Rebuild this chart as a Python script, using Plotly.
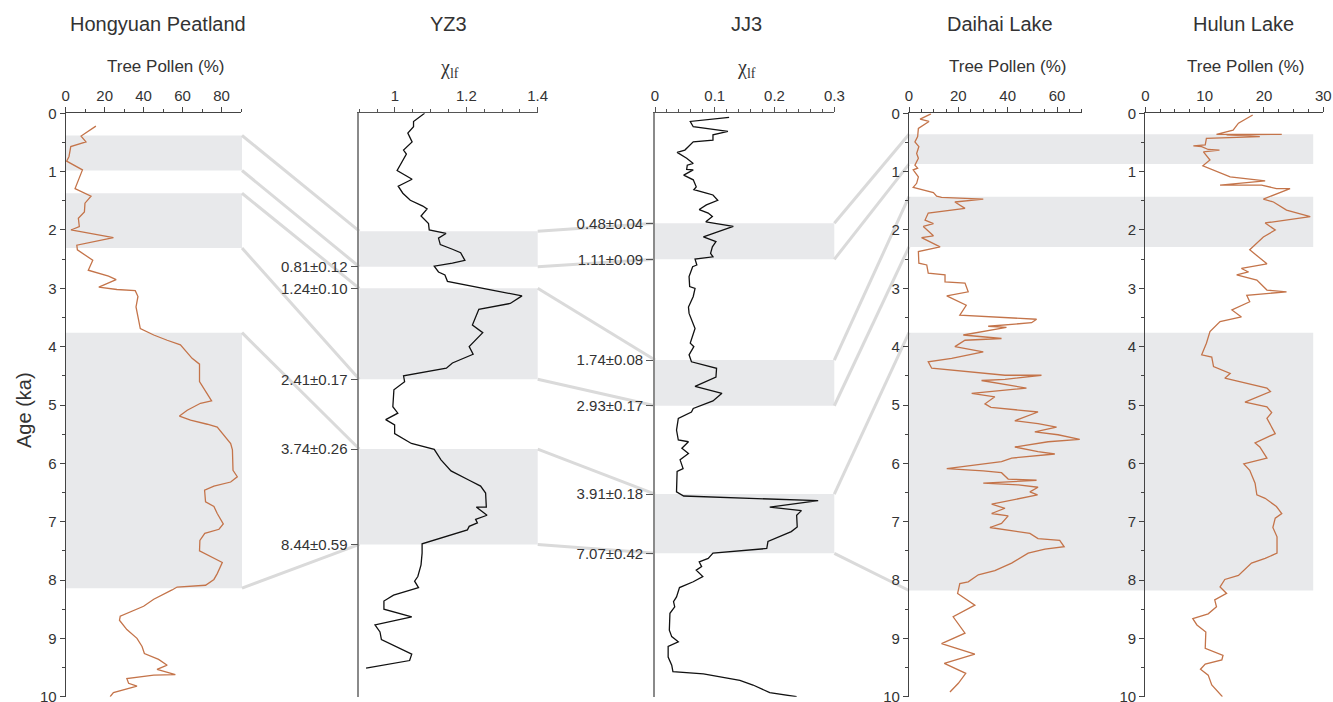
import plotly.graph_objects as go

W, H = 1333, 702

# ---------------- data ----------------
# Hongyuan Peatland tree pollen (%), age in ka
hy_age = [0.22, 0.39, 0.49, 0.57, 0.74, 0.82, 0.97, 1.29, 1.42, 1.54, 1.69, 1.80, 1.94, 2.00, 2.13,
          2.26, 2.34, 2.52, 2.69, 2.79, 2.85, 2.98, 3.02, 3.04, 3.14, 3.32, 3.69, 3.80, 3.89, 3.97,
          4.20, 4.30, 4.60, 4.80, 4.93, 4.97, 5.09, 5.19, 5.26, 5.33, 5.38, 5.66, 5.77, 6.12, 6.23,
          6.32, 6.39, 6.46, 6.66, 6.74, 6.86, 7.04, 7.13, 7.20, 7.32, 7.50, 7.60, 7.70, 7.89, 7.99,
          8.09, 8.12, 8.17, 8.33, 8.45, 8.62, 8.69, 8.85, 9.00, 9.14, 9.26, 9.36, 9.46, 9.53, 9.62,
          9.63, 9.69, 9.77, 9.82, 9.93, 10.0]
hy_tree = [15.5, 7.9, 10.4, 2.6, 1.7, 0.5, 8.6, 4.8, 13.0, 9.9, 9.6, 6.5, 7.0, 2.7, 24.5,
           5.7, 6.0, 13.9, 11.6, 22.0, 25.9, 17.0, 26.3, 35.7, 37.1, 36.1, 38.3, 45.2, 52.1, 58.9,
           64.9, 68.7, 68.7, 72.7, 74.9, 69.2, 62.4, 58.4, 64.1, 72.7, 77.8, 84.7, 85.6, 85.9, 88.1,
           84.7, 76.1, 71.3, 71.8, 76.1, 77.8, 80.9, 78.7, 71.4, 68.9, 68.7, 74.4, 80.4, 77.8, 76.1,
           71.8, 57.2, 54.6, 45.2, 40.0, 28.0, 27.6, 31.4, 36.6, 39.2, 40.4, 47.7, 52.1, 46.9, 56.3,
           45.2, 31.4, 32.3, 36.6, 24.5, 22.8]

# YZ3 magnetic susceptibility (chi_lf), relative core position
yz3_pos = [0.0, 0.14, 0.23, 0.34, 0.49, 0.63, 0.70, 0.80, 0.98, 1.13, 1.25, 1.37, 1.49, 1.59, 1.64,
           1.76, 1.89, 2.00, 2.06, 2.14, 2.25, 2.33, 2.39, 2.52, 2.57, 2.62, 2.72, 2.77, 2.88, 3.03,
           3.13, 3.26, 3.36, 3.63, 3.76, 4.00, 4.13, 4.28, 4.37, 4.50, 4.60, 4.74, 5.03, 5.14, 5.25,
           5.34, 5.49, 5.66, 5.76, 5.94, 6.13, 6.29, 6.39, 6.51, 6.75, 6.75, 6.89, 6.96, 7.02, 7.08,
           7.14, 7.38, 7.54, 7.74, 7.94, 8.02, 8.13, 8.26, 8.36, 8.50, 8.63, 8.77, 8.89, 9.02, 9.27,
           9.38, 9.51]
yz3_chi = [1.083, 1.052, 1.052, 1.036, 1.048, 1.024, 1.032, 1.022, 1.006, 1.048, 1.009, 1.022, 1.043, 1.078, 1.090,
           1.073, 1.094, 1.096, 1.143, 1.122, 1.127, 1.161, 1.184, 1.196, 1.161, 1.110, 1.122, 1.140, 1.147, 1.272,
           1.356, 1.323, 1.235, 1.217, 1.246, 1.208, 1.219, 1.161, 1.144, 1.024, 1.027, 0.997, 0.994, 1.008, 0.974,
           0.999, 0.999, 1.046, 1.110, 1.129, 1.157, 1.208, 1.240, 1.254, 1.256, 1.228, 1.258, 1.226, 1.231, 1.208,
           1.203, 1.076, 1.076, 1.073, 1.064, 1.055, 1.066, 0.996, 0.969, 0.969, 1.047, 0.944, 0.958, 0.962, 1.047,
           1.041, 0.919]

# JJ3 magnetic susceptibility (chi_lf), relative core position
jj3_pos = [0.07, 0.14, 0.23, 0.31, 0.37, 0.46, 0.49, 0.54, 0.63, 0.67, 0.77, 0.86, 0.89, 0.96, 0.97,
           1.06, 1.14, 1.26, 1.31, 1.37, 1.40, 1.49, 1.57, 1.65, 1.71, 1.77, 1.86, 1.94, 2.12, 2.20,
           2.29, 2.40, 2.46, 2.50, 2.60, 2.63, 2.80, 2.97, 3.00, 3.14, 3.32, 3.43, 3.69, 3.94, 4.00,
           4.14, 4.26, 4.37, 4.52, 4.68, 4.80, 4.93, 5.06, 5.12, 5.23, 5.43, 5.60, 5.63, 5.74, 5.83,
           5.94, 6.09, 6.14, 6.49, 6.56, 6.64, 6.75, 6.81, 6.89, 7.09, 7.17, 7.34, 7.46, 7.54, 7.63,
           7.69, 7.77, 7.83, 7.94, 8.03, 8.13, 8.29, 8.37, 8.46, 8.57, 8.86, 8.97, 9.06, 9.14, 9.32,
           9.46, 9.57, 9.61, 9.72, 9.80, 9.93, 10.0]
jj3_chi = [0.124, 0.059, 0.064, 0.122, 0.097, 0.097, 0.064, 0.059, 0.050, 0.037, 0.053, 0.064, 0.054, 0.053, 0.064,
           0.048, 0.064, 0.069, 0.065, 0.086, 0.097, 0.105, 0.086, 0.074, 0.089, 0.096, 0.085, 0.131, 0.081, 0.102,
           0.096, 0.093, 0.097, 0.067, 0.070, 0.063, 0.057, 0.058, 0.067, 0.064, 0.056, 0.057, 0.067, 0.059, 0.065,
           0.057, 0.061, 0.103, 0.102, 0.067, 0.112, 0.097, 0.064, 0.061, 0.039, 0.036, 0.039, 0.056, 0.045, 0.056,
           0.042, 0.047, 0.037, 0.036, 0.048, 0.273, 0.192, 0.245, 0.237, 0.238, 0.228, 0.189, 0.187, 0.097, 0.089,
           0.074, 0.078, 0.069, 0.080, 0.064, 0.041, 0.036, 0.031, 0.033, 0.025, 0.024, 0.028, 0.039, 0.022, 0.022,
           0.028, 0.030, 0.081, 0.142, 0.164, 0.192, 0.237]

# Daihai Lake tree pollen (%), age in ka
dh_age = [0.01, 0.10, 0.14, 0.26, 0.40, 0.49, 0.57, 0.69, 0.77, 0.89, 0.94, 0.97, 1.09, 1.20, 1.27,
          1.32, 1.36, 1.42, 1.44, 1.47, 1.52, 1.63, 1.71, 1.83, 1.89, 1.94, 2.10, 2.13, 2.29, 2.37,
          2.57, 2.60, 2.74, 2.77, 2.89, 2.91, 3.06, 3.13, 3.29, 3.46, 3.53, 3.53, 3.59, 3.65, 3.67,
          3.74, 3.80, 3.86, 3.89, 4.00, 4.09, 4.20, 4.26, 4.37, 4.49, 4.49, 4.56, 4.58, 4.71, 4.80,
          4.86, 4.98, 5.04, 5.12, 5.27, 5.32, 5.38, 5.46, 5.51, 5.59, 5.63, 5.72, 5.80, 5.84, 5.91,
          5.97, 6.09, 6.13, 6.16, 6.27, 6.29, 6.34, 6.37, 6.41, 6.49, 6.54, 6.60, 6.70, 6.77, 6.86,
          6.90, 7.03, 7.10, 7.20, 7.29, 7.32, 7.43, 7.47, 7.54, 7.71, 7.84, 7.91, 8.03, 8.06, 8.23,
          8.43, 8.63, 8.91, 9.09, 9.27, 9.43, 9.60, 9.77, 9.92]
dh_tree = [8.9, 4.5, 8.1, 3.8, 3.5, 2.4, 4.0, 3.1, 3.8, 2.4, 3.5, 1.7, 3.8, 3.1, 1.7,
           6.5, 9.9, 11.2, 13.2, 30.1, 18.6, 22.7, 7.8, 6.5, 9.9, 5.8, 9.9, 5.1, 12.6, 3.8,
           4.0, 7.2, 7.8, 14.6, 14.6, 22.7, 24.0, 15.3, 23.2, 20.6, 47.0, 51.7, 49.7, 32.1, 39.5,
           29.4, 22.0, 37.5, 22.7, 18.6, 30.1, 17.3, 7.8, 9.2, 38.9, 53.7, 38.9, 29.4, 47.6, 25.4,
           34.8, 30.8, 33.2, 52.3, 42.9, 52.3, 59.8, 51.0, 60.4, 69.2, 56.4, 42.9, 52.3, 59.1, 41.6,
           37.5, 15.3, 30.1, 37.5, 40.2, 51.7, 30.1, 44.3, 52.3, 49.0, 52.1, 45.6, 33.5, 38.9, 33.5,
           40.2, 37.5, 32.8, 49.0, 52.3, 61.1, 62.9, 55.1, 48.3, 41.6, 34.8, 28.1, 24.0, 20.6, 19.7,
           26.7, 17.9, 22.7, 13.2, 26.7, 14.3, 23.0, 20.0, 16.6]

# Hulun Lake tree pollen (%), age in ka
hl_age = [0.03, 0.17, 0.29, 0.36, 0.36, 0.37, 0.40, 0.43, 0.54, 0.56, 0.57, 0.62, 0.63, 0.66, 0.80,
          0.90, 1.09, 1.16, 1.23, 1.23, 1.29, 1.29, 1.47, 1.52, 1.66, 1.77, 1.88, 2.00, 2.12, 2.34,
          2.58, 2.66, 2.72, 2.77, 2.86, 3.03, 3.06, 3.12, 3.23, 3.37, 3.49, 3.57, 3.74, 3.94, 4.14,
          4.18, 4.34, 4.46, 4.54, 4.71, 4.77, 4.95, 5.03, 5.13, 5.23, 5.49, 5.65, 5.72, 5.91, 6.01,
          6.12, 6.34, 6.54, 6.60, 6.74, 6.86, 6.94, 7.10, 7.26, 7.54, 7.63, 7.71, 7.92, 7.99, 8.12,
          8.23, 8.34, 8.46, 8.58, 8.66, 8.77, 8.89, 9.17, 9.29, 9.37, 9.44, 9.53, 9.63, 9.80, 10.0]
hl_tree = [18.1, 15.7, 14.8, 12.0, 23.0, 13.7, 19.3, 10.3, 10.1, 8.1, 9.5, 10.6, 12.5, 9.8, 10.9,
           9.7, 14.3, 20.2, 12.6, 19.6, 22.1, 24.4, 19.9, 21.6, 23.8, 27.8, 20.2, 21.9, 19.9, 17.6,
           20.5, 16.2, 17.4, 15.4, 18.8, 20.5, 23.8, 17.1, 17.6, 14.6, 16.2, 12.6, 10.9, 10.3, 9.5,
           11.2, 11.5, 14.3, 13.4, 20.5, 21.1, 16.8, 20.5, 21.3, 20.5, 21.9, 18.5, 19.3, 20.5, 16.6,
           17.6, 18.5, 18.8, 20.2, 22.1, 23.0, 21.9, 21.5, 22.2, 22.2, 20.2, 17.9, 15.7, 13.4, 12.6,
           13.7, 11.7, 12.0, 10.6, 8.0, 8.7, 10.2, 10.1, 13.1, 12.9, 10.1, 9.3, 10.6, 11.2, 13.0]

# shaded intervals (top, bottom)
hy_bands = [(0.38, 0.98), (1.37, 2.31), (3.76, 8.14)]
yz3_bands = [(2.02, 2.63), (3.00, 4.56), (5.755, 7.39)]
jj3_bands = [(1.886, 2.503), (4.23, 5.013), (6.527, 7.543)]
dh_bands = [(0.36, 0.87), (1.43, 2.29), (3.76, 8.18)]

# dated horizons on the two cores
yz3_tie_pos = [2.63, 3.00, 4.56, 5.755, 7.39]
yz3_tie_txt = ["0.81±0.12", "1.24±0.10", "2.41±0.17", "3.74±0.26", "8.44±0.59"]
jj3_tie_pos = [1.886, 2.503, 4.23, 5.013, 6.527, 7.543]
jj3_tie_txt = ["0.48±0.04", "1.11±0.09", "1.74±0.08", "2.93±0.17", "3.91±0.18", "7.07±0.42"]

# ---------------- layout helpers ----------------
def px(x):
    return x / W

def py(y):
    return 1 - y / H

Y_DOM = [py(696.7), py(113.3)]
DOM = {
    "hy": [px(65.7), px(241.0)],
    "yz": [px(359.3), px(537.7)],
    "jj": [px(655.0), px(834.3)],
    "dh": [px(909.0), px(1081.7)],
    "hl": [px(1145.3), px(1323.3)],
}
HL_BAND_RIGHT = 28.3  # right edge of Daihai/Hulun shading in Hulun % units

FONT = "Liberation Sans, Arial, sans-serif"
TXT = "#333333"
ORANGE = "#c4744a"
BAND = "#e8e9eb"
LINK = "#dadada"

fig = go.Figure()

traces = [
    (hy_tree, hy_age, "x", "y", ORANGE),
    (yz3_chi, yz3_pos, "x2", "y2", "#111111"),
    (jj3_chi, jj3_pos, "x3", "y3", "#111111"),
    (dh_tree, dh_age, "x4", "y4", ORANGE),
    (hl_tree, hl_age, "x5", "y5", ORANGE),
]
for xs, ys, xa, ya, col in traces:
    fig.add_trace(go.Scatter(x=xs, y=ys, xaxis=xa, yaxis=ya, mode="lines",
                             line=dict(color=col, width=1.3), showlegend=False,
                             hoverinfo="skip"))

shapes = []

def band(x0, x1, yref, b):
    shapes.append(dict(type="rect", xref="paper", yref=yref, x0=x0, x1=x1,
                       y0=b[0], y1=b[1], fillcolor=BAND, line=dict(width=0),
                       layer="below"))

for b in hy_bands:
    band(DOM["hy"][0], px(242), "y", b)
for b in yz3_bands:
    band(DOM["yz"][0], DOM["yz"][1], "y2", b)
for b in jj3_bands:
    band(DOM["jj"][0], DOM["jj"][1], "y3", b)
hl_w = DOM["hl"][1] - DOM["hl"][0]
for b in dh_bands:
    band(DOM["dh"][0], DOM["hl"][0] + hl_w * HL_BAND_RIGHT / 30, "y4", b)

def links(xa, xb, left, right):
    for la, rb in zip(left, right):
        for ya, yb in zip(la, rb):
            shapes.append(dict(type="line", xref="paper", yref="y", x0=xa, x1=xb,
                               y0=ya, y1=yb, line=dict(color=LINK, width=3),
                               layer="below"))

links(px(242), DOM["yz"][0], hy_bands, yz3_bands)
links(DOM["yz"][1], DOM["jj"][0], yz3_bands, jj3_bands)
links(DOM["jj"][1], DOM["dh"][0], jj3_bands, dh_bands)

tickfont = dict(family=FONT, size=15, color=TXT)

def xaxis(dom, rng, tickvals, minor_dtick, linecolor="#444444"):
    return dict(domain=dom, range=rng, side="top", showgrid=False, zeroline=False,
                showline=True, linecolor=linecolor, linewidth=1.2, automargin=False,
                ticks="outside", ticklen=5, tickcolor=linecolor, tickwidth=1.2,
                tickvals=tickvals, ticktext=[f"{v:g}" for v in tickvals],
                tickfont=tickfont, ticklabeloverflow="allow",
                minor=dict(dtick=minor_dtick, tick0=0, ticks="outside", ticklen=3,
                           tickcolor=linecolor, showgrid=False),
                fixedrange=True)

def yaxis_age(anchor):
    return dict(domain=Y_DOM, range=[10, 0], anchor=anchor, showgrid=False,
                zeroline=False, showline=True, linecolor="#444444", linewidth=1.2,
                automargin=False, ticklabeloverflow="allow",
                ticks="outside", ticklen=5, tickcolor="#444444", tickwidth=1.2,
                tickvals=list(range(11)), tickfont=tickfont,
                minor=dict(dtick=0.5, tick0=0, ticks="outside", ticklen=3,
                           tickcolor="#444444", showgrid=False),
                fixedrange=True)

def yaxis_core(anchor, vals, txt):
    return dict(domain=Y_DOM, range=[10, 0], anchor=anchor, showgrid=False,
                zeroline=False, showline=True, linecolor="#8a8a8a", linewidth=1.6,
                automargin=False, ticklabeloverflow="allow",
                ticks="outside", ticklen=7, tickcolor="#555555", tickwidth=1.2,
                tickvals=vals, ticktext=txt, tickfont=tickfont, fixedrange=True)

fig.update_layout(
    width=W, height=H, autosize=False, margin=dict(l=0, r=0, t=0, b=0, pad=0),
    paper_bgcolor="white", plot_bgcolor="rgba(0,0,0,0)",
    font=dict(family=FONT, color=TXT),
    xaxis=dict(xaxis(DOM["hy"], [0, 90], [0, 20, 40, 60, 80], 10), anchor="y"),
    yaxis=yaxis_age("x"),
    xaxis2=dict(xaxis(DOM["yz"], [0.9, 1.4], [1, 1.2, 1.4], 0.05, "#555555"), anchor="y2"),
    yaxis2=yaxis_core("x2", yz3_tie_pos, yz3_tie_txt),
    xaxis3=dict(xaxis(DOM["jj"], [0, 0.3], [0, 0.1, 0.2, 0.3], 0.02, "#555555"), anchor="y3"),
    yaxis3=yaxis_core("x3", jj3_tie_pos, jj3_tie_txt),
    xaxis4=dict(xaxis(DOM["dh"], [0, 70], [0, 20, 40, 60], 5), anchor="y4"),
    yaxis4=yaxis_age("x4"),
    xaxis5=dict(xaxis(DOM["hl"], [0, 30], [0, 10, 20, 30], 2.5), anchor="y5"),
    yaxis5=yaxis_age("x5"),
    shapes=shapes,
)

ann = []
def text(x, y, s, size, family=FONT, angle=0):
    ann.append(dict(xref="paper", yref="paper", x=px(x), y=py(y), text=s,
                    showarrow=False, xanchor="center", yanchor="middle",
                    textangle=angle, font=dict(family=family, size=size, color=TXT)))

text(158, 24, "Hongyuan Peatland", 20)
text(448, 24, "YZ3", 20)
text(746, 24, "JJ3", 20)
text(1000, 24, "Daihai Lake", 20)
text(1243, 24, "Hulun Lake", 20)
text(165, 66, "Tree Pollen (%)", 17)
text(1007, 66, "Tree Pollen (%)", 17)
text(1245, 66, "Tree Pollen (%)", 17)
text(449, 69, "χ<sub>lf</sub>", 20, family="Liberation Serif, Times New Roman, serif")
text(746, 69, "χ<sub>lf</sub>", 20, family="Liberation Serif, Times New Roman, serif")
text(24, 410, "Age (ka)", 20, angle=-90)
fig.update_layout(annotations=ann)

fig.write_html("out.html")
